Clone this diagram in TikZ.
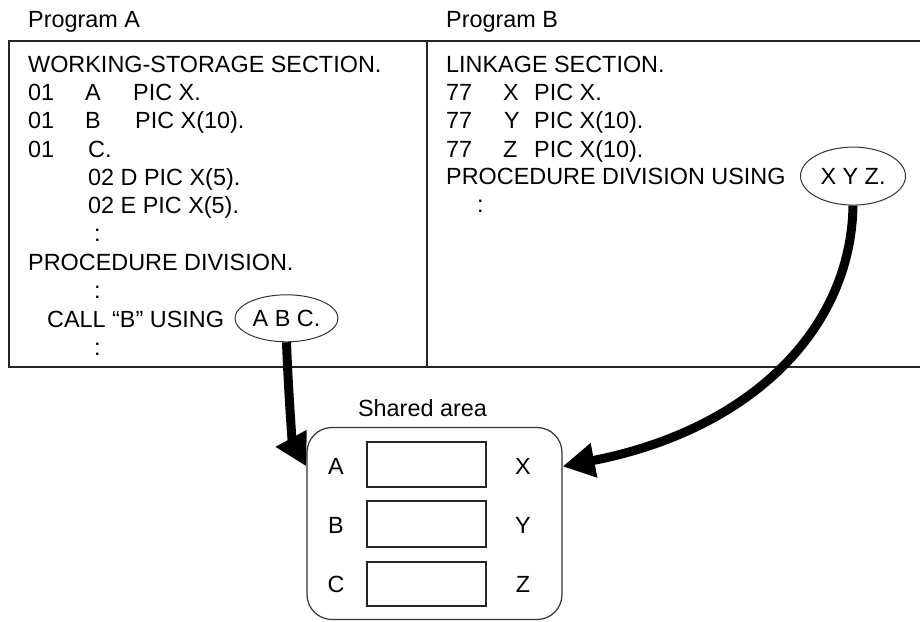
\documentclass[tikz,border=0pt]{standalone}
\usepackage{fontspec}
\setmainfont{Liberation Sans}
\usetikzlibrary{arrows.meta,shapes.geometric,calc}
\newcommand\cobfont{\fontsize{23.4}{28}\selectfont}
\begin{document}
\begin{tikzpicture}[x=1pt,y=-1pt,
  txt/.style={anchor=base west, inner sep=0pt, font=\cobfont},
  ctxt/.style={anchor=base, inner sep=0pt, font=\cobfont},
  boxline/.style={line width=1.3pt, draw=black!85},
  oval/.style={ellipse, draw=black!80, line width=1pt, inner sep=0pt, font=\cobfont},
  cell/.style={draw=black!85, line width=1.5pt, minimum width=119pt, inner sep=0pt},
  bigarrow/.style={line width=9pt, -{Triangle[length=32pt,width=33pt]}}
]
\useasboundingbox (0,0) rectangle (920,621);
% program boxes
\draw[boxline] (9,41) rectangle (427,367);
\draw[boxline] (427,41) -- (920,41);
\draw[boxline] (427,367) -- (920,367);
% titles
\node[txt] (tA) at (28,27.5) {Program A};
\node[txt] (tB) at (446,27.5) {Program B};
% Program A text
\node[txt] (a1) at (28,72.7) {WORKING-STORAGE SECTION.};
\node[txt] (a2n) at (28,100.5) {01};
\node[txt] (a2v) at (85,100.5) {A};
\node[txt] (a2p) at (133,100.5) {PIC X.};
\node[txt] (a3n) at (28,128.5) {01};
\node[txt] (a3v) at (85,128.5) {B};
\node[txt] (a3p) at (135,128.5) {PIC X(10).};
\node[txt] (a4n) at (28,157) {01};
\node[txt] (a4v) at (88,157) {C.};
\node[txt] (a5) at (88,185) {02 D PIC X(5).};
\node[txt] (a6) at (88,213) {02 E PIC X(5).};
\node[txt] (a7) at (94,241) {:};
\node[txt] (a8) at (28,270.5) {PROCEDURE DIVISION.};
\node[txt] (a9) at (94,298) {:};
\node[txt] (a10) at (47,327) {CALL “B” USING};
\node[oval, minimum width=103pt, minimum height=47pt] (abc) at (286.5,318.3) {A B C.};
\node[txt] (a11) at (94,355) {:};
% Program B text
\node[txt] (b1) at (446,72.7) {LINKAGE SECTION.};
\node[txt] (b2n) at (446,100.5) {77};
\node[txt] (b2v) at (503,100.5) {X};
\node[txt] (b2p) at (534,100.5) {PIC X.};
\node[txt] (b3n) at (446,128.5) {77};
\node[txt] (b3v) at (504,128.5) {Y};
\node[txt] (b3p) at (534,128.5) {PIC X(10).};
\node[txt] (b4n) at (446,157) {77};
\node[txt] (b4v) at (503,157) {Z};
\node[txt] (b4p) at (534,157) {PIC X(10).};
\node[txt] (b5) at (446,184.5) {PROCEDURE DIVISION USING};
\node[oval, minimum width=105pt, minimum height=58pt] (xyz) at (853,176.1) {X Y Z.};
\node[txt] (b6) at (477,212) {:};
% shared area
\node[ctxt] (slbl) at (422.5,416) {Shared area};
\node[draw=black!80, line width=1.2pt, rounded corners=25pt, minimum width=255pt, minimum height=192pt, inner sep=0pt] (shared) at (434.5,523.5) {};
\node[cell, minimum height=45pt] (ra) at (426.5,464.5) {};
\node[cell, minimum height=46pt] (rb) at (426.5,524) {};
\node[cell, minimum height=44pt] (rc) at (426.5,584) {};
\node[ctxt] (la) at (336,474.5) {A};
\node[ctxt] (lb) at (336,533) {B};
\node[ctxt] (lc) at (336,592) {C};
\node[ctxt] (lx) at (523,474.5) {X};
\node[ctxt] (ly) at (523,533) {Y};
\node[ctxt] (lz) at (523,592) {Z};
% arrows
\draw[bigarrow] (abc.south) .. controls (288,385) and (292,440) .. (shared.west |- la.center);
\draw[bigarrow] (xyz.south) .. controls (851,330) and (750,430) .. (shared.east |- lx.center);
\end{tikzpicture}
\end{document}
